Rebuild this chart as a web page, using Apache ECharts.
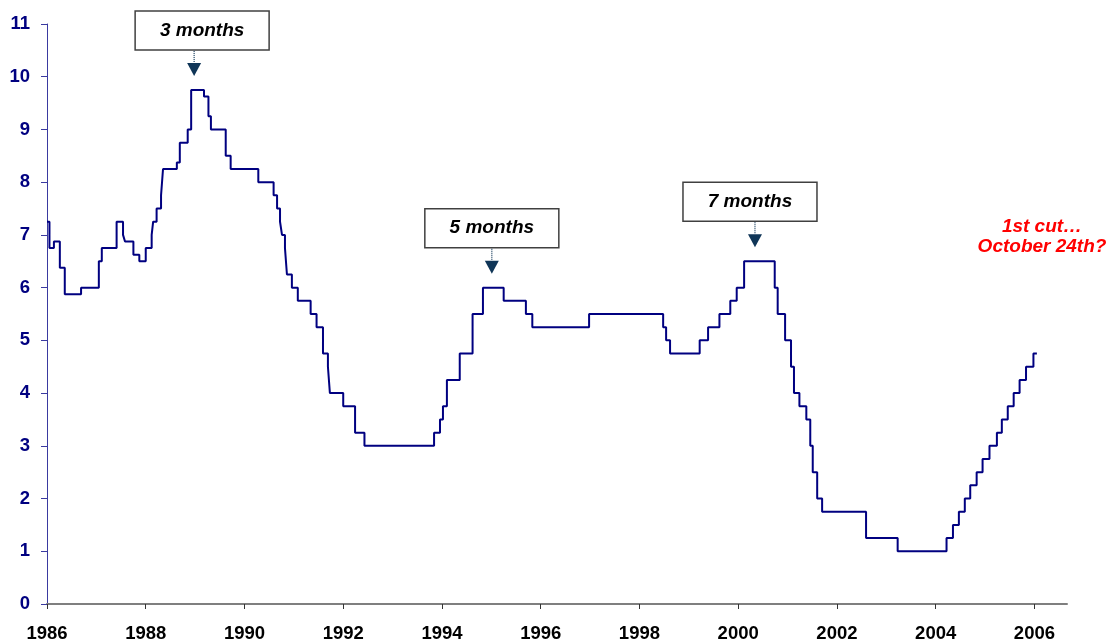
<!DOCTYPE html>
<html>
<head>
<meta charset="utf-8">
<script src="https://cdn.jsdelivr.net/npm/echarts@6/dist/echarts.min.js"></script>
<style>
  html, body { margin: 0; padding: 0; background: #fff; }
  #chart { width: 1109px; height: 643px; }
</style>
</head>
<body>
<div id="chart"></div>
<script>
// fed funds target (decimal year, %)
const years = [
  1986.0, 1986.05, 1986.14, 1986.26, 1986.36, 1986.69, 1987.05, 1987.11, 1987.41, 1987.54,
  1987.58, 1987.75, 1987.87, 1988.0, 1988.12, 1988.15, 1988.22, 1988.31, 1988.35, 1988.63,
  1988.69, 1988.85, 1988.92, 1989.18, 1989.27, 1989.32, 1989.62, 1989.72, 1990.28, 1990.59,
  1990.66, 1990.72, 1990.76, 1990.82, 1990.86, 1990.96, 1991.08, 1991.34, 1991.46, 1991.59,
  1991.69, 1991.73, 1992.0, 1992.24, 1992.43, 1993.84, 1993.96, 1994.02, 1994.1, 1994.36,
  1994.62, 1994.83, 1995.25, 1995.7, 1995.83, 1996.98, 1998.48, 1998.54, 1998.62, 1999.22,
  1999.39, 1999.62, 1999.84, 1999.97, 2000.12, 2000.74, 2000.8, 2000.95, 2001.07, 2001.13,
  2001.24, 2001.38, 2001.46, 2001.51, 2001.6, 2001.7, 2002.59, 2003.23, 2004.22, 2004.35,
  2004.47, 2004.59, 2004.7, 2004.83, 2004.95, 2005.09, 2005.24, 2005.34, 2005.46, 2005.58,
  2005.7, 2005.83, 2005.98, 2006.05
]
const rates = [
  7.25, 6.75, 6.875, 6.375, 5.875, 6.0, 6.5, 6.75, 7.25, 7.0,
  6.875, 6.625, 6.5, 6.75, 7.0, 7.25, 7.5, 7.75, 8.25, 8.375,
  8.75, 9.0, 9.75, 9.625, 9.25, 9.0, 8.5, 8.25, 8.0, 7.75,
  7.5, 7.25, 7.0, 6.75, 6.25, 6.0, 5.75, 5.5, 5.25, 4.75,
  4.5, 4.0, 3.75, 3.25, 3.0, 3.25, 3.5, 3.75, 4.25, 4.75,
  5.5, 6.0, 5.75, 5.5, 5.25, 5.5, 5.25, 5.0, 4.75, 5.0,
  5.25, 5.5, 5.75, 6.0, 6.5, 6.0, 5.5, 5.0, 4.5, 4.0,
  3.75, 3.5, 3.0, 2.5, 2.0, 1.75, 1.25, 1.0, 1.25, 1.5,
  1.75, 2.0, 2.25, 2.5, 2.75, 3.0, 3.25, 3.5, 3.75, 4.0,
  4.25, 4.5, 4.75, 4.75
]
const xTicks = [1986, 1988, 1990, 1992, 1994, 1996, 1998, 2000, 2002, 2004, 2006]

// boxes with arrows pointing at the peaks
const annoLabels = ['3 months', '5 months', '7 months']
const annoYears = [1988.98, 1995.01, 2000.34]
const annoPeaks = [9.75, 6.0, 6.5]
const noteLines = ['1st cut\u2026', 'October 24th?']

const FONT = '"Liberation Sans", Arial, sans-serif'
const boxShift = [8, 0, -5] // box centre vs arrow, px

const myChart = echarts.init(document.getElementById('chart'))

const option = {
  animation: false,
  backgroundColor: '#fff',
  grid: { left: 47, right: 42, top: 24, bottom: 39 },
  xAxis: {
    type: 'value',
    min: 1986,
    max: 2006.66,
    axisLine: { show: true, lineStyle: { color: '#7f7f7f', width: 2 } },
    axisTick: { show: true, length: 5, customValues: xTicks, lineStyle: { color: '#333', width: 1 } },
    axisLabel: {
      customValues: xTicks,
      margin: 20,
      color: '#000',
      fontFamily: FONT,
      fontWeight: 'bold',
      fontSize: 18.5,
      formatter: v => String(Math.round(v))
    },
    splitLine: { show: false }
  },
  yAxis: {
    type: 'value',
    min: 0,
    max: 11,
    interval: 1,
    axisLine: { show: true, lineStyle: { color: '#3a3aa0', width: 1 } },
    axisTick: { show: true, length: 6, lineStyle: { color: '#3a3aa0' } },
    axisLabel: {
      margin: 17,
      color: '#000080',
      fontFamily: FONT,
      fontWeight: 'bold',
      fontSize: 18.5
    },
    splitLine: { show: false }
  },
  series: [{
    type: 'line',
    step: 'end',
    showSymbol: false,
    data: years.map((y, i) => [y, rates[i]]),
    lineStyle: { color: '#000080', width: 2 },
    itemStyle: { color: '#000080' }
  }]
}
myChart.setOption(option)

// annotations positioned from data coords
const graphics = []
annoLabels.forEach((label, i) => {
  const p = myChart.convertToPixel({ gridIndex: 0 }, [annoYears[i], annoPeaks[i]])
  const tipY = p[1] - 14
  const triTop = tipY - 13
  const dotTop = triTop - 12
  const boxBottom = dotTop - 1
  const boxH = 39
  const boxW = 134
  const cx = p[0] + boxShift[i]
  graphics.push({
    type: 'polygon',
    shape: { points: [[p[0] - 7, triTop], [p[0] + 7, triTop], [p[0], tipY]] },
    style: { fill: '#0f3557' }
  })
  graphics.push({
    type: 'line',
    shape: { x1: p[0], y1: dotTop, x2: p[0], y2: triTop },
    style: { stroke: '#0f3557', lineWidth: 1.2, lineDash: [1, 1] }
  })
  graphics.push({
    type: 'rect',
    shape: { x: cx - boxW / 2, y: boxBottom - boxH, width: boxW, height: boxH },
    style: { fill: '#fff', stroke: '#404040', lineWidth: 1.5 }
  })
  graphics.push({
    type: 'text',
    x: cx,
    y: boxBottom - boxH / 2,
    style: {
      text: label,
      fill: '#000',
      font: 'italic bold 19px ' + FONT,
      align: 'center',
      verticalAlign: 'middle'
    }
  })
})
graphics.push({
  type: 'text',
  x: 1042,
  y: 237,
  style: {
    text: noteLines.join('\n'),
    fill: '#ff0000',
    font: 'italic bold 19px ' + FONT,
    lineHeight: 20,
    align: 'center',
    verticalAlign: 'middle'
  }
})
myChart.setOption({ graphic: graphics })
</script>
</body>
</html>
